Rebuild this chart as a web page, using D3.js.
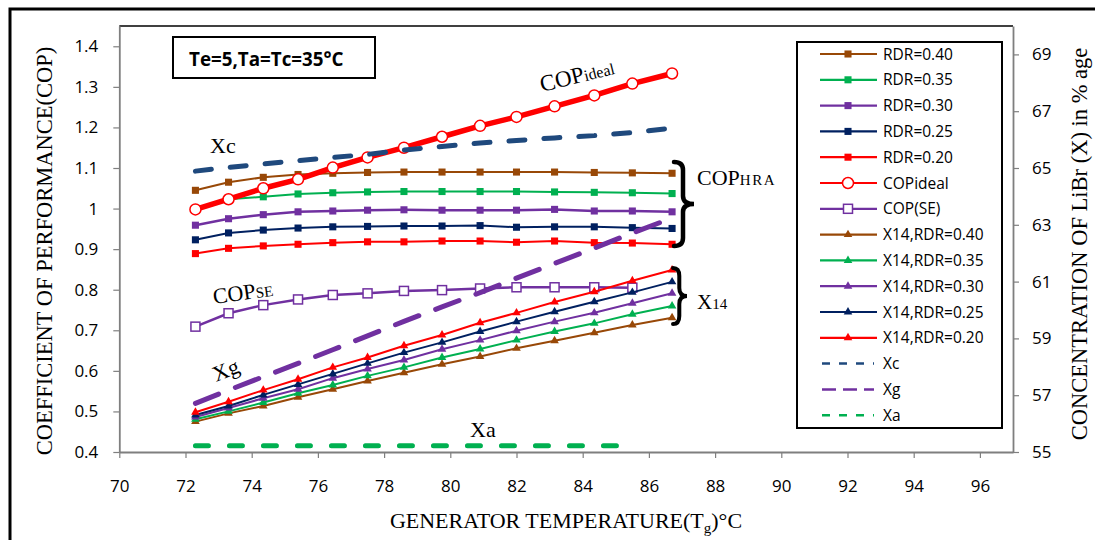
<!DOCTYPE html>
<meta charset="utf-8">
<style>
body { margin: 0; background: #fff; }
text { fill: #000; }
</style>
<body>
<script src="https://cdn.jsdelivr.net/npm/d3@7"></script>
<script>

var w = 1095,
    h = 540;

// generator temperature (x) for every point
var tg = [72.3, 73.3, 74.35, 75.4, 76.45, 77.5, 78.6, 79.75, 80.9, 82.0, 83.15, 84.35, 85.5, 86.7];

// COP of the heat recovery absorption cycle, left axis
var copRdr40 = [1.045, 1.065, 1.077, 1.084, 1.087, 1.089, 1.090, 1.090, 1.090, 1.090, 1.090, 1.089, 1.088, 1.087];
var copRdr35 = [1.000, 1.023, 1.029, 1.036, 1.039, 1.041, 1.042, 1.042, 1.042, 1.042, 1.041, 1.040, 1.039, 1.037];
var copRdr30 = [0.959, 0.975, 0.985, 0.992, 0.994, 0.996, 0.997, 0.996, 0.996, 0.996, 0.998, 0.994, 0.994, 0.992];
var copRdr25 = [0.923, 0.940, 0.947, 0.952, 0.955, 0.956, 0.957, 0.957, 0.958, 0.954, 0.955, 0.955, 0.953, 0.951];
var copRdr20 = [0.889, 0.902, 0.908, 0.912, 0.916, 0.918, 0.918, 0.920, 0.920, 0.917, 0.920, 0.916, 0.915, 0.912];
var copIdeal = [0.998, 1.023, 1.050, 1.072, 1.101, 1.126, 1.150, 1.177, 1.204, 1.226, 1.252, 1.279, 1.308, 1.333];
var copSE    = [0.709, 0.742, 0.762, 0.776, 0.787, 0.791, 0.797, 0.799, 0.803, 0.806, 0.806, 0.806, 0.805];

// LiBr concentration (%), right axis
var x14Rdr40 = [56.07, 56.36, 56.62, 56.93, 57.21, 57.50, 57.79, 58.09, 58.36, 58.65, 58.92, 59.20, 59.47, 59.73];
var x14Rdr35 = [56.15, 56.43, 56.74, 57.07, 57.36, 57.68, 57.98, 58.33, 58.63, 58.94, 59.24, 59.53, 59.85, 60.14];
var x14Rdr30 = [56.23, 56.55, 56.89, 57.21, 57.60, 57.92, 58.24, 58.62, 58.94, 59.27, 59.59, 59.90, 60.24, 60.59];
var x14Rdr25 = [56.30, 56.62, 57.01, 57.38, 57.75, 58.12, 58.50, 58.86, 59.24, 59.59, 59.94, 60.29, 60.62, 60.99];
var x14Rdr20 = [56.40, 56.77, 57.18, 57.56, 57.98, 58.33, 58.74, 59.12, 59.55, 59.90, 60.28, 60.64, 61.03, 61.41];
var xc = [64.89, 65.02, 65.14, 65.26, 65.37, 65.48, 65.63, 65.76, 65.88, 65.97, 66.06, 66.14, 66.25, 66.40];
var xg = [56.71, 57.18, 57.65, 58.12, 58.60, 59.09, 59.60, 60.11, 60.61, 61.12, 61.64, 62.18, 62.71, 63.24];
var xa = [55.22, 55.22, 55.22, 55.22, 55.22, 55.22, 55.22, 55.22, 55.22, 55.22, 55.22, 55.22, 55.22];

var xTicks = [70, 72, 74, 76, 78, 80, 82, 84, 86, 88, 90, 92, 94, 96];
var copTicks = [0.4, 0.5, 0.6, 0.7, 0.8, 0.9, 1.0, 1.1, 1.2, 1.3, 1.4];
var copTickLabels = ["0.4", "0.5", "0.6", "0.7", "0.8", "0.9", "1", "1.1", "1.2", "1.3", "1.4"];
var concTicks = [55, 57, 59, 61, 63, 65, 67, 69];

var brown = "#984807", green = "#00b050", purple = "#7030a0",
    navy = "#002060", red = "#ff0000", steel = "#1f497d";

var series = [
  {name: "RDR=0.40", v: copRdr40, axis: "L", color: brown, width: 2, mark: "sq"},
  {name: "RDR=0.35", v: copRdr35, axis: "L", color: green, width: 2, mark: "sq"},
  {name: "RDR=0.30", v: copRdr30, axis: "L", color: purple, width: 2.5, mark: "sq"},
  {name: "RDR=0.25", v: copRdr25, axis: "L", color: navy, width: 2, mark: "sq"},
  {name: "RDR=0.20", v: copRdr20, axis: "L", color: red, width: 2, mark: "sq"},
  {name: "COPideal", v: copIdeal, axis: "L", color: red, width: 5.5, mark: "circle"},
  {name: "COP(SE)", v: copSE, axis: "L", color: purple, width: 2.5, mark: "open"},
  {name: "X14,RDR=0.40", v: x14Rdr40, axis: "R", color: brown, width: 2, mark: "tri"},
  {name: "X14,RDR=0.35", v: x14Rdr35, axis: "R", color: green, width: 2, mark: "tri"},
  {name: "X14,RDR=0.30", v: x14Rdr30, axis: "R", color: purple, width: 2, mark: "tri"},
  {name: "X14,RDR=0.25", v: x14Rdr25, axis: "R", color: navy, width: 2, mark: "tri"},
  {name: "X14,RDR=0.20", v: x14Rdr20, axis: "R", color: red, width: 2, mark: "tri"},
  {name: "Xc", v: xc, axis: "R", color: steel, width: 5, dash: "16,19"},
  {name: "Xg", v: xg, axis: "R", color: purple, width: 5, dash: "25,18"},
  {name: "Xa", v: xa, axis: "R", color: green, width: 5, dash: "13,21"}
];

var svg = d3.select("body").append("svg")
    .attr("width", w)
    .attr("height", h);

// outer frame
svg.append("rect")
    .attr("x", 10).attr("y", 9)
    .attr("width", 1100).attr("height", 600)
    .attr("fill", "none").attr("stroke", "#000").attr("stroke-width", 3);

var x = d3.scaleLinear().domain([70, 97]).range([119.3, 1013]),
    yL = d3.scaleLinear().domain([0.4, 1.45]).range([452, 26]),
    yR = d3.scaleLinear().domain([55, 70]).range([452, 26]);

// plot area border
svg.append("line")
    .attr("x1", x(70)).attr("x2", x(97))
    .attr("y1", yL(1.45)).attr("y2", yL(1.45))
    .attr("stroke", "#000").attr("stroke-width", 1.5);

var tickFont = "'Open Sans', sans-serif";

var gx = svg.append("g")
    .attr("transform", "translate(0," + yL(0.4) + ")")
    .call(d3.axisBottom(x).tickValues(xTicks).tickSize(6).tickSizeOuter(0).tickPadding(22));

var gl = svg.append("g")
    .attr("transform", "translate(" + x(70) + ",0)")
    .call(d3.axisLeft(yL).tickValues(copTicks).tickSize(6).tickSizeOuter(0).tickPadding(15)
      .tickFormat(function(d, i) { return copTickLabels[i]; }));

var gr = svg.append("g")
    .attr("transform", "translate(" + x(97) + ",0)")
    .call(d3.axisRight(yR).tickValues(concTicks).tickSize(6).tickSizeOuter(0).tickPadding(13));

[gx, gl, gr].forEach(function(g) {
  g.select(".domain").attr("stroke", "#7f7f7f").attr("stroke-width", 1.8);
  g.selectAll(".tick line").attr("stroke", "#7f7f7f").attr("stroke-width", 1.2);
  g.selectAll(".tick text")
      .style("font-family", tickFont)
      .style("font-size", "17px")
      .attr("fill", "#222");
});

// title box
svg.append("rect")
    .attr("x", 173).attr("y", 37)
    .attr("width", 202).attr("height", 41)
    .attr("fill", "#fff").attr("stroke", "#000").attr("stroke-width", 2);
svg.append("text")
    .attr("x", 189).attr("y", 66)
    .style("font-family", tickFont)
    .style("font-weight", "bold")
    .style("font-size", "18.8px")
    .text("Te=5,Ta=Tc=35\u00b0C");

function yOf(s) { return s.axis === "L" ? yL : yR; }

function drawMarker(g, mark, color) {
  if (mark === "sq") {
    g.append("path").attr("d", d3.symbol(d3.symbolSquare, 50)()).attr("fill", color);
  } else if (mark === "tri") {
    g.append("path").attr("d", d3.symbol(d3.symbolTriangle, 32)()).attr("fill", color);
  } else if (mark === "circle") {
    g.append("circle").attr("r", 5.5).attr("fill", "#fff").attr("stroke", color).attr("stroke-width", 1.5);
  } else if (mark === "open") {
    g.append("rect").attr("x", -4.5).attr("y", -4.5).attr("width", 9).attr("height", 9)
        .attr("fill", "#fff").attr("stroke", color).attr("stroke-width", 1.5);
  }
}

var plot = svg.append("g");

series.forEach(function(s) {
  var y = yOf(s);
  var pts = s.v.map(function(v, i) { return [x(tg[i]), y(v)]; });
  plot.append("path")
      .attr("d", d3.line()(pts))
      .attr("fill", "none")
      .attr("stroke", s.color)
      .attr("stroke-width", s.width)
      .attr("stroke-linejoin", "round")
      .attr("stroke-linecap", s.dash ? "round" : "butt")
      .attr("stroke-dasharray", s.dash || null);
  if (s.mark) {
    pts.forEach(function(p) {
      drawMarker(plot.append("g").attr("transform", "translate(" + p[0] + "," + p[1] + ")"), s.mark, s.color);
    });
  }
});

// braces
function brace(x0, y1, y2, bw) {
  var ym = (y1 + y2) / 2, r = 8, xm = x0 + bw * 0.45;
  return "M" + x0 + "," + y1 +
    "Q" + xm + "," + y1 + " " + xm + "," + (y1 + r) +
    "L" + xm + "," + (ym - r) +
    "Q" + xm + "," + ym + " " + (x0 + bw) + "," + ym +
    "Q" + xm + "," + ym + " " + xm + "," + (ym + r) +
    "L" + xm + "," + (y2 - r) +
    "Q" + xm + "," + y2 + " " + x0 + "," + y2;
}
svg.append("path").attr("d", brace(674, 162, 246, 20))
    .attr("fill", "none").attr("stroke", "#000").attr("stroke-width", 4.5).attr("stroke-linecap", "round");
svg.append("path").attr("d", brace(673, 268, 324, 14))
    .attr("fill", "none").attr("stroke", "#000").attr("stroke-width", 4).attr("stroke-linecap", "round");

// annotations
var serif = "'Liberation Serif', 'Times New Roman', serif";

function label(xp, yp, rot, main, sub, size, subSize, spacing) {
  var t = svg.append("text")
      .attr("transform", "translate(" + xp + "," + yp + ") rotate(" + rot + ")")
      .style("font-family", serif)
      .style("font-size", size + "px");
  t.append("tspan").text(main);
  if (sub) t.append("tspan").style("font-size", subSize + "px")
      .style("letter-spacing", (spacing || 0) + "px").text(sub);
}

label(210, 153, 0, "Xc", null, 22);
label(542, 92, -14, "COP", "ideal", 23, 16);
label(697, 185, 0, "COP", "HRA", 22, 15, 1.5);
label(697, 309, 0, "X", "14", 21, 15);
label(214, 304, -8, "COP", "SE", 22, 15);
label(216, 382, -22, "Xg", null, 22);
label(470, 437, 0, "Xa", null, 22);

// axis titles
svg.append("text")
    .attr("transform", "translate(52,251) rotate(-90)")
    .attr("text-anchor", "middle")
    .style("font-family", serif)
    .style("font-size", "22.5px")
    .text("COEFFICIENT OF PERFORMANCE(COP)");

svg.append("text")
    .attr("transform", "translate(1087,244) rotate(-90)")
    .attr("text-anchor", "middle")
    .style("font-family", serif)
    .style("font-size", "22.5px")
    .text("CONCENTRATION OF LiBr (X) in % age");

var xt = svg.append("text")
    .attr("x", 566).attr("y", 528)
    .attr("text-anchor", "middle")
    .style("font-family", serif)
    .style("font-size", "22px");
xt.append("tspan").text("GENERATOR TEMPERATURE(T");
xt.append("tspan").attr("dy", 5).style("font-size", "15px").text("g");
xt.append("tspan").attr("dy", -5).text(")\u00b0C");

// legend
var lg = svg.append("g");
lg.append("rect")
    .attr("x", 797).attr("y", 42)
    .attr("width", 205).attr("height", 386)
    .attr("fill", "#fff").attr("stroke", "#000").attr("stroke-width", 2);

series.forEach(function(s, i) {
  var yy = 54 + i * 25.8;
  var g = lg.append("g").attr("transform", "translate(0," + yy + ")");
  g.append("line")
      .attr("x1", s.dash ? 822 : 820).attr("x2", s.dash ? 874 : 877)
      .attr("stroke", s.color)
      .attr("stroke-width", s.dash ? 2.5 : 2.2)
      .attr("stroke-dasharray", s.dash ? (s.name === "Xg" ? "14,7" : "8,9") : null);
  if (s.mark) drawMarker(g.append("g").attr("transform", "translate(848,0)"), s.mark, s.color);
  g.append("text")
      .attr("x", 883).attr("y", 5.5)
      .style("font-family", tickFont)
      .style("font-size", "15.5px")
      .attr("fill", "#111")
      .text(s.name);
});

</script>
